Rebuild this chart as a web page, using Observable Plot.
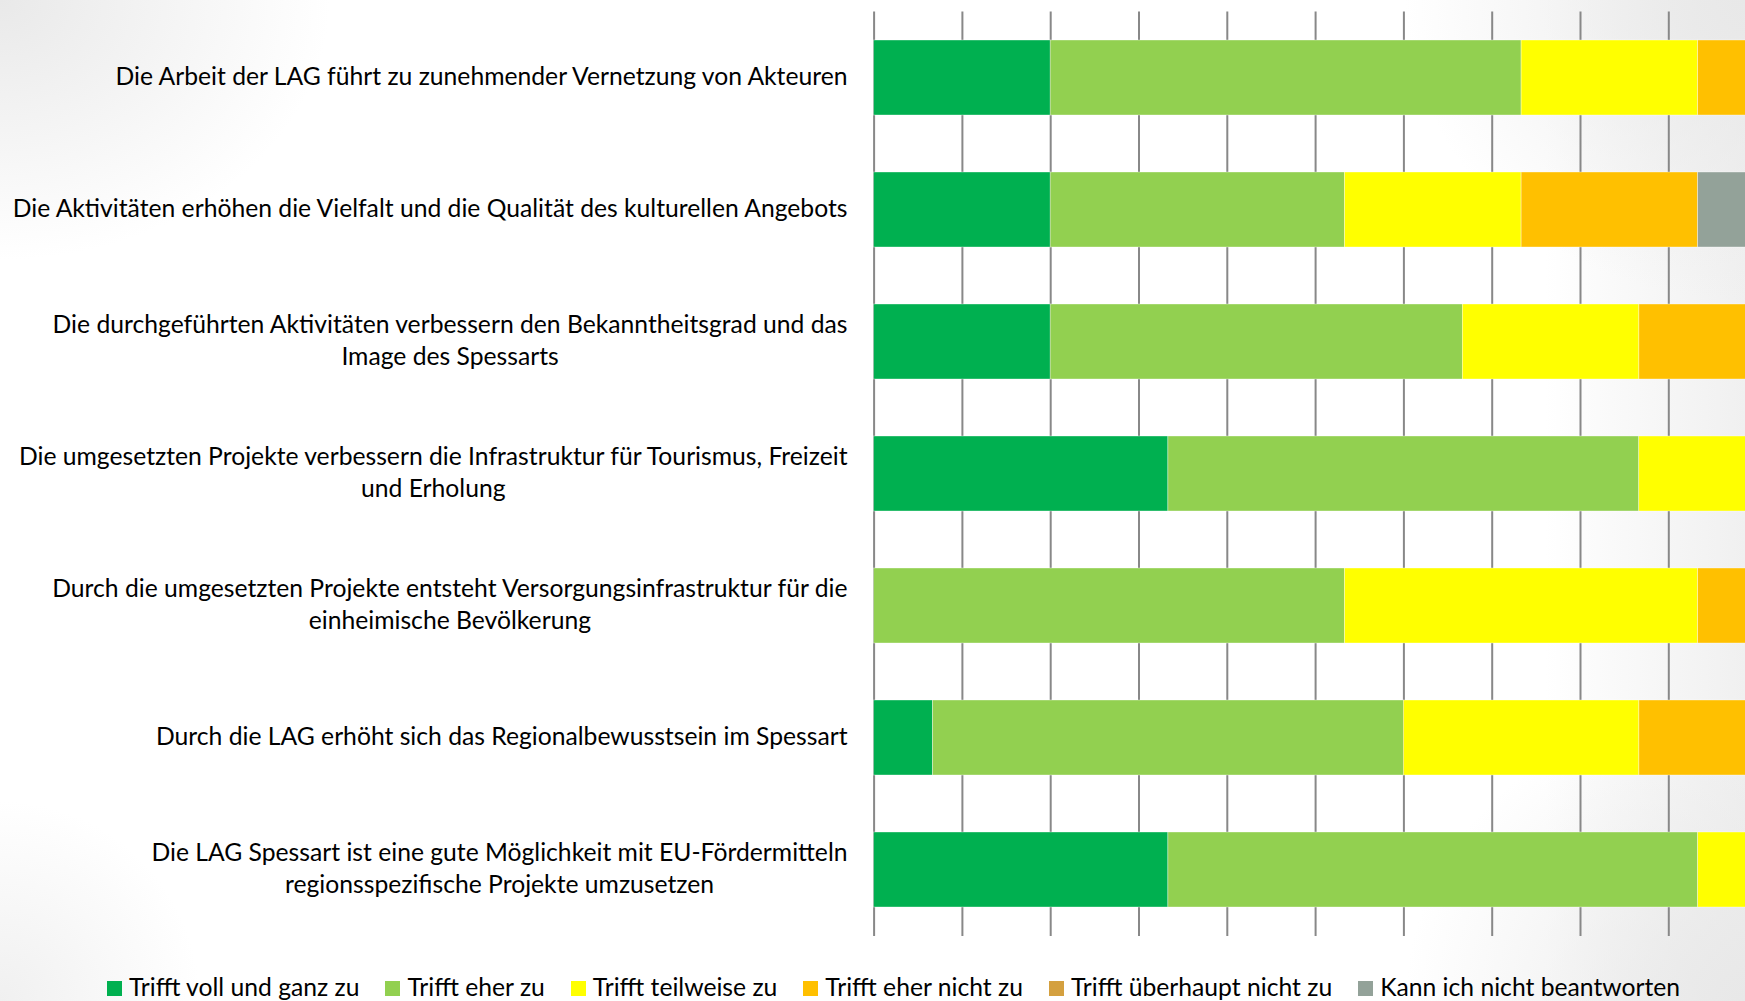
<!DOCTYPE html>
<html>
<head>
<meta charset="utf-8">
<script src="https://cdn.jsdelivr.net/npm/d3@7"></script>
<script src="https://cdn.jsdelivr.net/npm/@observablehq/plot@0.6"></script>
<style>
  html, body { margin: 0; padding: 0; width: 1745px; height: 1001px; overflow: hidden; }
  body {
    font-family: Lato, "Open Sans", sans-serif;
    background:
      radial-gradient(ellipse 330px 260px at 0 0, #e9e9e9 0%, rgba(255,255,255,0) 100%),
      radial-gradient(ellipse 340px 300px at 100% 0, #e8e8e8 0%, rgba(255,255,255,0) 100%),
      radial-gradient(ellipse 340px 300px at 100% 100%, #e8e8e8 0%, rgba(255,255,255,0) 100%),
      radial-gradient(ellipse 200px 200px at 0 100%, #f0f0f0 0%, rgba(255,255,255,0) 100%),
      linear-gradient(to left, #f0f0f0 0px, #ffffff 200px);
  }
  #chart svg { display: block; overflow: visible; }
  #legend {
    display: flex; justify-content: center; align-items: center;
    padding-left: 42px; margin-top: 17px; gap: 26px;
    font-size: 24.7px; line-height: 30px; color: #000; white-space: nowrap;
  }
  #legend .item { display: flex; align-items: center; gap: 7px; }
  #legend .sw { width: 15px; height: 15px; display: inline-block; margin-top: 3px; }
</style>
</head>
<body>
<div id="chart"></div>
<div id="legend"></div>
<script>
const categories = ["Trifft voll und ganz zu", "Trifft eher zu", "Trifft teilweise zu", "Trifft eher nicht zu", "Trifft überhaupt nicht zu", "Kann ich nicht beantworten"];
const colors = ["#00B050", "#92D050", "#FFFF00", "#FFC000", "#D4A03F", "#93A299"];
const statements = [
  "Die Arbeit der LAG führt zu zunehmender Vernetzung von Akteuren",
  "Die Aktivitäten erhöhen die Vielfalt und die Qualität des kulturellen Angebots",
  "Die durchgeführten Aktivitäten verbessern den Bekanntheitsgrad und das\nImage des Spessarts",
  "Die umgesetzten Projekte verbessern die Infrastruktur für Tourismus, Freizeit\nund Erholung",
  "Durch die umgesetzten Projekte entsteht Versorgungsinfrastruktur für die\neinheimische Bevölkerung",
  "Durch die LAG erhöht sich das Regionalbewusstsein im Spessart",
  "Die LAG Spessart ist eine gute Möglichkeit mit EU-Fördermitteln\nregionsspezifische Projekte umzusetzen"
];
const trifftVoll       = [20,   20,   20,   33.33,  0,    6.67, 33.33];
const trifftEher       = [53.33, 33.33, 46.67, 53.33, 53.33, 53.33, 60];
const trifftTeilweise  = [20,   20,   20,   13.33, 40,   26.67, 6.67];
const trifftEherNicht  = [6.67, 20,   13.33, 0,    6.67, 13.33, 0];
const trifftUeberhaupt = [0,    0,    0,    0,     0,    0,     0];
const kannNicht        = [0,    6.67, 0,    0,     0,    0,     0];
const xTicks = [0, 10, 20, 30, 40, 50, 60, 70, 80, 90, 100];

const series = [trifftVoll, trifftEher, trifftTeilweise, trifftEherNicht, trifftUeberhaupt, kannNicht];
const table = [];
statements.forEach((s, i) => {
  series.forEach((vals, j) => {
    if (vals[i] > 0) table.push({statement: s, category: categories[j], value: vals[i]});
  });
});

const chart = Plot.plot({
  width: 1745,
  height: 955,
  marginTop: 11.5,
  marginBottom: 19,
  marginLeft: 0,
  marginRight: 0,
  style: {background: "transparent", fontFamily: "Lato, 'Open Sans', sans-serif", overflow: "visible"},
  x: {domain: [0, 100], range: [873.6, 1756.6], axis: null},
  y: {domain: statements, range: [11.5, 936], paddingInner: 0.43, paddingOuter: 0.215, axis: null},
  color: {domain: categories, range: colors},
  marks: [
    Plot.ruleX(xTicks, {x: d => d, stroke: "#888888", strokeWidth: 2}),
    Plot.barX(table, Plot.stackX({x: "value", y: "statement", fill: "category", order: categories, stroke: "#ffffff", strokeWidth: 0.6, strokeOpacity: 0.6})),
    Plot.text(statements, {x: 0, y: d => d, text: d => d, textAnchor: "end", dx: -26.6, dy: -3.3, lineHeight: 1.31, fontSize: 24.7, fill: "#000000"})
  ]
});
document.getElementById("chart").appendChild(chart);

// center multi-line labels within their block (right-aligned block)
chart.querySelectorAll("text").forEach(t => {
  const spans = t.querySelectorAll("tspan");
  if (spans.length > 1) {
    let w = 0;
    spans.forEach(s => { w = Math.max(w, s.getComputedTextLength()); });
    t.setAttribute("text-anchor", "middle");
    spans.forEach(s => s.setAttribute("x", -w / 2));
  }
});

const legend = document.getElementById("legend");
categories.forEach((c, i) => {
  const item = document.createElement("div");
  item.className = "item";
  const sw = document.createElement("span");
  sw.className = "sw";
  sw.style.background = colors[i];
  const lab = document.createElement("span");
  lab.textContent = c;
  item.appendChild(sw);
  item.appendChild(lab);
  legend.appendChild(item);
});
</script>
</body>
</html>
